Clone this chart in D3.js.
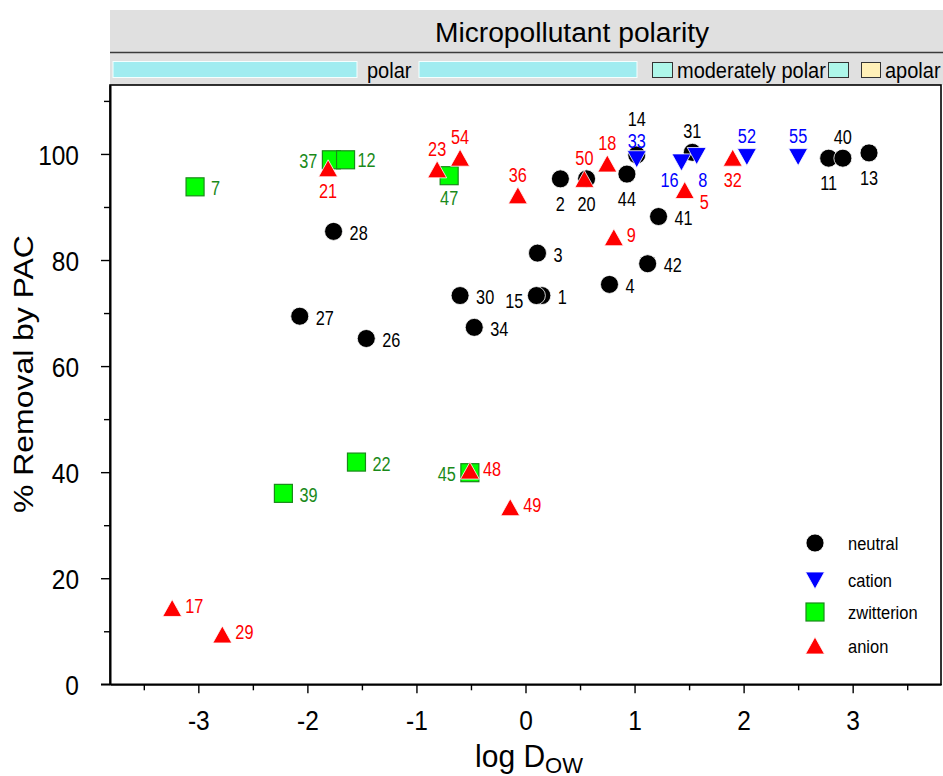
<!DOCTYPE html>
<html><head><meta charset="utf-8">
<script src="https://cdn.jsdelivr.net/npm/d3@7"></script>
<style>
body{margin:0;background:#fff}
svg text{font-family:"Liberation Sans",Arial,Helvetica,sans-serif}
</style>
</head><body>
<svg id="chart" width="943" height="776"></svg>
<script>
// ---------- data ----------
const neutral = [
  {id:"28",x:-1.76,y:85.4},{id:"27",x:-2.07,y:69.4},{id:"26",x:-1.46,y:65.2},
  {id:"30",x:-0.60,y:73.3},{id:"34",x:-0.47,y:67.3},{id:"3",x:0.11,y:81.3},
  {id:"1",x:0.15,y:73.3},{id:"15",x:0.10,y:73.3},{id:"2",x:0.32,y:95.3},
  {id:"20",x:0.56,y:95.3},{id:"44",x:0.93,y:96.2},{id:"14",x:1.02,y:99.8},
  {id:"41",x:1.22,y:88.2},{id:"42",x:1.12,y:79.3},{id:"4",x:0.77,y:75.4},
  {id:"31",x:1.53,y:100.3},{id:"11",x:2.78,y:99.2},{id:"40",x:2.91,y:99.2},
  {id:"13",x:3.15,y:100.2}
];
const zwitterion = [
  {id:"7",x:-3.03,y:93.8},{id:"37",x:-1.78,y:98.9},{id:"12",x:-1.65,y:98.9},
  {id:"47",x:-0.70,y:95.9},{id:"22",x:-1.55,y:41.9},{id:"39",x:-2.22,y:36.0},
  {id:"45",x:-0.51,y:39.9}
];
const cation = [
  {id:"33",x:1.02,y:99.1},{id:"16",x:1.43,y:98.5},{id:"8",x:1.57,y:99.7},
  {id:"52",x:2.03,y:99.5},{id:"55",x:2.50,y:99.5}
];
const anion = [
  {id:"17",x:-3.24,y:14.3},{id:"29",x:-2.78,y:9.3},{id:"21",x:-1.81,y:97.2},
  {id:"23",x:-0.81,y:97.0},{id:"54",x:-0.60,y:99.2},{id:"36",x:-0.07,y:92.1},
  {id:"50",x:0.54,y:95.2},{id:"18",x:0.75,y:98.1},{id:"9",x:0.81,y:84.2},
  {id:"5",x:1.46,y:93.1},{id:"32",x:1.90,y:99.2},{id:"48",x:-0.51,y:40.2},
  {id:"49",x:-0.14,y:33.3}
];
const xTicks = [-3,-2,-1,0,1,2,3];
const xMinor = [-3.5,-2.5,-1.5,-0.5,0.5,1.5,2.5,3.5];
const yTicks = [0,20,40,60,80,100];
const yMinor = [10,30,50,70,90,110];
const legendLabels = ["neutral","cation","zwitterion","anion"];
const polarityLabels = ["polar","moderately polar","apolar"];

// label placement codes (styling, not data)
const labelPlace = {
  "28":"r","27":"r","26":"r","30":"r","34":"r","3":"r","1":"r","15":"lb","2":"b","20":"b",
  "44":"b","14":"tt","41":"r","42":"r","4":"r","31":"t","11":"b","40":"t","13":"b",
  "7":"r","37":"l","12":"rs","47":"b2","22":"r","39":"r","45":"l",
  "33":"t3","16":"bl","8":"br","52":"t","55":"t",
  "17":"ra","29":"ra","21":"b2","23":"t","54":"t","36":"t","50":"t","18":"t","9":"ra",
  "5":"rb","32":"b2","48":"ra","49":"ra"
};
const placeOff = {
  r:{dx:16,dy:8.5,a:"start"}, rs:{dx:12,dy:7.5,a:"start"}, ra:{dx:13,dy:4.5,a:"start"},
  l:{dx:-14,dy:8.5,a:"end"}, lb:{dx:-13,dy:12,a:"end"},
  t:{dx:0,dy:-14,a:"middle"}, t3:{dx:0,dy:-11,a:"middle"}, tt:{dx:0,dy:-29,a:"middle"},
  b:{dx:0,dy:32,a:"middle"}, b2:{dx:0,dy:29,a:"middle"},
  bl:{dx:-12,dy:25,a:"middle"}, br:{dx:6,dy:31,a:"middle"}, rb:{dx:15,dy:18,a:"start"}
};

// vertical stretch of a text element around its own anchor point
function vstretch(sel, s){
  sel.each(function(){
    const t = d3.select(this);
    const xx = +t.attr("x") || 0, yy = +t.attr("y") || 0;
    t.attr("x", null).attr("y", null)
     .attr("transform", `translate(${xx},${yy}) scale(1,${s})`);
  });
}

// ---------- layout ----------
const svg = d3.select("#chart");
const L = 110, R = 941, T = 85, B = 684.3;
const x = d3.scaleLinear().domain([-3.81,3.81]).range([L,R]);
const y = d3.scaleLinear().domain([0,113]).range([B,T]);

// header
const hdr = svg.append("g");
hdr.append("rect").attr("x",110).attr("y",10).attr("width",833).attr("height",75).attr("fill","#e0e0e0");
hdr.append("line").attr("x1",110).attr("x2",943).attr("y1",52.5).attr("y2",52.5).attr("stroke","#3a3a3a").attr("stroke-width",1.6);
hdr.append("text").attr("x",572).attr("y",42).attr("text-anchor","middle").attr("font-size",28.2).attr("fill","#000").text("Micropollutant polarity");
const barFill = "#a0ecf0";
hdr.append("rect").attr("x",113).attr("y",61.5).attr("width",244).attr("height",16).attr("fill",barFill).attr("stroke","#f4ffff").attr("stroke-width",1);
hdr.append("rect").attr("x",419).attr("y",61.5).attr("width",218).attr("height",16).attr("fill",barFill).attr("stroke","#f4ffff").attr("stroke-width",1);
hdr.append("rect").attr("x",652.5).attr("y",62.5).attr("width",20).attr("height",15).attr("fill","#aef7ea").attr("stroke","#333").attr("stroke-width",1);
hdr.append("rect").attr("x",828.5).attr("y",62.5).attr("width",20).attr("height",15).attr("fill","#aef7ea").attr("stroke","#333").attr("stroke-width",1);
hdr.append("rect").attr("x",861.5).attr("y",62.5).attr("width",19).attr("height",15).attr("fill","#fff0b8").attr("stroke","#333").attr("stroke-width",1);
const ht = [
  hdr.append("text").attr("x",367).attr("y",78).attr("font-size",20).text(polarityLabels[0]),
  hdr.append("text").attr("x",677).attr("y",78).attr("font-size",20).text(polarityLabels[1]),
  hdr.append("text").attr("x",885).attr("y",78).attr("font-size",20).text(polarityLabels[2])
];
ht.forEach(t=>vstretch(t,1.08));

// plot frame
svg.append("rect").attr("x",L).attr("y",T).attr("width",R-L).attr("height",B-T)
  .attr("fill","none").attr("stroke","#000").attr("stroke-width",1.6);

// axes
const gx = svg.append("g").attr("transform",`translate(0,${B})`)
  .call(d3.axisBottom(x).tickValues(xTicks).tickSize(9).tickSizeOuter(0).tickPadding(16).tickFormat(d=>d<0?"-"+Math.abs(d):d));
const gxm = svg.append("g").attr("transform",`translate(0,${B})`)
  .call(d3.axisBottom(x).tickValues(xMinor).tickSize(6).tickSizeOuter(0).tickFormat(""));
const gy = svg.append("g").attr("transform",`translate(${L},0)`)
  .call(d3.axisLeft(y).tickValues(yTicks).tickSize(9).tickSizeOuter(0).tickPadding(22));
const gym = svg.append("g").attr("transform",`translate(${L},0)`)
  .call(d3.axisLeft(y).tickValues(yMinor).tickSize(6).tickSizeOuter(0).tickFormat(""));
[gx,gxm,gy,gym].forEach(g=>{
  g.select(".domain").attr("stroke","#000").attr("stroke-width",1.6);
  g.selectAll(".tick line").attr("stroke","#000").attr("stroke-width",1.4);
  g.selectAll(".tick text").attr("font-size",24.5).attr("fill","#000")
   .style("font-family",'"Liberation Sans",Arial,sans-serif');
});
gy.selectAll(".tick text").attr("dy","0.36em");
gx.selectAll(".tick text").attr("dy","0.72em");
vstretch(gy.selectAll(".tick text"),1.15);
vstretch(gx.selectAll(".tick text"),1.15);
svg.append("line").attr("x1",L-9).attr("x2",L).attr("y1",B).attr("y2",B).attr("stroke","#000").attr("stroke-width",1.6);

// axis titles
svg.append("text").attr("transform","translate(33,374) rotate(-90) scale(1.14,1)").attr("text-anchor","middle")
  .attr("font-size",28).text("% Removal by PAC");
const xt = svg.append("text").attr("text-anchor","middle").attr("font-size",30)
  .attr("transform","translate(529,767) scale(1,1.04)");
xt.append("tspan").text("log D");
xt.append("tspan").attr("font-size",22).attr("dy",6).text("OW");

// ---------- markers ----------
const triUp = "M0,-9L9.5,8L-9.5,8Z";
const triDown = "M0,9L9.5,-8L-9.5,-8Z";
const styles = {
  neutral:{fill:"#000",stroke:"#fff",label:"#000"},
  cation:{fill:"#0000ff",stroke:"#fff",label:"#0000ff"},
  zwitterion:{fill:"#00ff00",stroke:"#1a8a1a",label:"#1a8a1a"},
  anion:{fill:"#ff0000",stroke:"#fff",label:"#ff0000"}
};
function drawMarker(g, kind, cx, cy){
  const s = styles[kind];
  if(kind==="neutral") g.append("circle").attr("cx",cx).attr("cy",cy).attr("r",9).attr("fill",s.fill).attr("stroke",s.stroke).attr("stroke-width",0.8);
  else if(kind==="zwitterion") g.append("rect").attr("x",cx-9).attr("y",cy-9).attr("width",18).attr("height",18).attr("fill",s.fill).attr("stroke",s.stroke).attr("stroke-width",1.2);
  else g.append("path").attr("d",kind==="cation"?triDown:triUp).attr("transform",`translate(${cx},${cy})`).attr("fill",s.fill).attr("stroke",s.stroke).attr("stroke-width",0.8);
}
const series = [["neutral",neutral],["zwitterion",zwitterion],["cation",cation],["anion",anion]];
const gm = svg.append("g");
series.forEach(([kind,data])=>{
  data.forEach(d=>drawMarker(gm,kind,x(d.x),y(d.y)));
});
const gl = svg.append("g");
series.forEach(([kind,data])=>{
  data.forEach(d=>{
    const o = placeOff[labelPlace[d.id]||"r"];
    const t = gl.append("text").attr("x",x(d.x)+o.dx).attr("y",y(d.y)+o.dy).attr("text-anchor",o.a)
      .attr("font-size",16.3).attr("fill",styles[kind].label).text(d.id);
    vstretch(t,1.2);
  });
});

// ---------- legend ----------
const legKinds = ["neutral","cation","zwitterion","anion"];
const legY = [543,580,612,646];
const lg = svg.append("g");
legKinds.forEach((k,i)=>{
  drawMarker(lg,k,815,legY[i]);
  const t = lg.append("text").attr("x",848).attr("y",legY[i]+7).attr("font-size",16.5).attr("fill","#000").text(legendLabels[i]);
  vstretch(t,1.12);
});
</script>
</body></html>
